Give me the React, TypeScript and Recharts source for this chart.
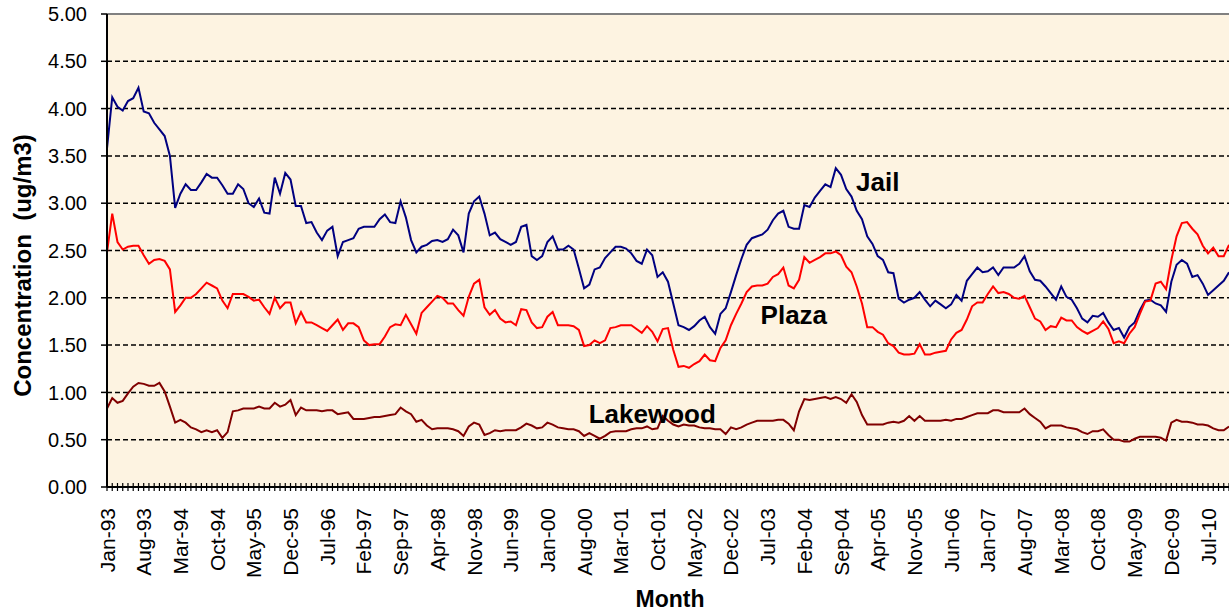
import React from "react";
import {
  LineChart,
  Line,
  XAxis,
  YAxis,
  CartesianGrid,
  ReferenceLine,
  ReferenceDot,
  Label,
} from "recharts";

const FONT = '"Liberation Sans", Arial, Helvetica, sans-serif';

// monthly series, Jan-93 .. Nov-10
const jail = [
  3.58, 4.12, 4.02, 3.98, 4.08, 4.11, 4.22, 3.97, 3.95, 3.85, 3.78, 3.71,
  3.5, 2.95, 3.1, 3.2, 3.14, 3.14, 3.22, 3.31, 3.27, 3.27, 3.19, 3.1,
  3.1, 3.2, 3.15, 3.0, 2.96, 3.05, 2.9, 2.89, 3.27, 3.1, 3.32, 3.25,
  2.97, 2.97, 2.79, 2.8, 2.69, 2.61, 2.71, 2.75, 2.44, 2.59, 2.61, 2.63,
  2.73, 2.75, 2.75, 2.75, 2.83, 2.88, 2.8, 2.79, 3.02, 2.85, 2.61, 2.48,
  2.54, 2.56, 2.6, 2.61, 2.59, 2.62, 2.72, 2.66, 2.48, 2.89, 3.02, 3.07,
  2.89, 2.66, 2.69, 2.62, 2.59, 2.56, 2.59, 2.75, 2.77, 2.44, 2.4, 2.44,
  2.59, 2.65, 2.51, 2.51, 2.55, 2.51, 2.31, 2.1, 2.14, 2.3, 2.32, 2.42,
  2.48, 2.54, 2.54, 2.52, 2.47, 2.39, 2.36, 2.51, 2.45, 2.22, 2.27, 2.17,
  1.94, 1.71, 1.69, 1.66, 1.7, 1.76, 1.8, 1.69, 1.62, 1.83, 1.89, 2.06,
  2.24, 2.41, 2.56, 2.63, 2.65, 2.67, 2.72, 2.82, 2.89, 2.92, 2.75, 2.73,
  2.73, 2.98, 2.96, 3.06, 3.13, 3.2, 3.17, 3.37, 3.3, 3.15, 3.07, 2.92,
  2.83, 2.65, 2.57, 2.44, 2.4, 2.27, 2.26, 1.99, 1.95, 1.98, 2.0, 2.06,
  1.98, 1.91, 1.97, 1.93, 1.89, 1.93, 2.03, 1.97, 2.18, 2.25, 2.32, 2.27,
  2.28, 2.32, 2.24, 2.32, 2.32, 2.32, 2.36, 2.44, 2.28, 2.19, 2.18, 2.12,
  2.05, 1.98, 2.12, 2.01, 1.98, 1.89, 1.78, 1.74, 1.81, 1.8, 1.84, 1.74,
  1.66, 1.68, 1.58, 1.69, 1.74, 1.87, 1.97, 1.98, 1.94, 1.92, 1.85, 2.17,
  2.35, 2.4, 2.36, 2.22, 2.24, 2.15, 2.03, 2.08, 2.13, 2.18, 2.27,
];

const plaza = [
  2.48, 2.89, 2.59, 2.51, 2.54, 2.55, 2.55, 2.45, 2.36, 2.4, 2.41, 2.39,
  2.3, 1.85, 1.92, 2.0, 2.0, 2.04, 2.1, 2.16, 2.13, 2.1, 1.97, 1.89,
  2.04, 2.04, 2.04, 2.01, 1.97, 1.98, 1.9, 1.83, 2.0, 1.89, 1.95, 1.95,
  1.73, 1.85, 1.74, 1.74, 1.71, 1.68, 1.65, 1.71, 1.77, 1.66, 1.73, 1.73,
  1.69, 1.55, 1.5, 1.51, 1.51, 1.59, 1.69, 1.72, 1.71, 1.82, 1.72, 1.62,
  1.84, 1.9, 1.96, 2.02, 2.0, 1.94, 1.94, 1.87, 1.81, 2.01, 2.15, 2.19,
  1.9, 1.82, 1.87, 1.78, 1.74, 1.75, 1.71, 1.88, 1.87, 1.74, 1.68, 1.69,
  1.8, 1.85, 1.71, 1.71, 1.71, 1.7, 1.66, 1.49, 1.5, 1.55, 1.52, 1.55,
  1.68, 1.69, 1.71, 1.71, 1.71, 1.67, 1.63, 1.7, 1.64, 1.54, 1.67, 1.68,
  1.45, 1.27, 1.28, 1.26, 1.3, 1.33, 1.4, 1.34, 1.33, 1.47, 1.55, 1.71,
  1.83, 1.94, 2.06, 2.12, 2.13, 2.13, 2.15, 2.22, 2.25, 2.32, 2.13, 2.1,
  2.19, 2.43, 2.37, 2.4, 2.43, 2.47, 2.47, 2.49, 2.45, 2.33, 2.27, 2.12,
  1.94, 1.69, 1.69, 1.64, 1.61, 1.52, 1.49, 1.42, 1.4, 1.4, 1.41, 1.51,
  1.4, 1.4, 1.42, 1.43, 1.44, 1.56, 1.63, 1.66, 1.77, 1.91, 1.95, 1.95,
  2.04, 2.12, 2.05, 2.06, 2.04, 2.0, 1.99, 2.02, 1.9, 1.78, 1.75, 1.66,
  1.7, 1.69, 1.79, 1.76, 1.76, 1.69, 1.65, 1.62, 1.65, 1.68, 1.75, 1.67,
  1.52, 1.54, 1.52, 1.62, 1.69, 1.83, 1.96, 1.97, 2.15, 2.17, 2.09, 2.4,
  2.65, 2.79, 2.8, 2.73, 2.67, 2.55, 2.47, 2.53, 2.44, 2.44, 2.56,
];

const lakewood = [
  0.83, 0.94, 0.89, 0.91, 0.99, 1.06, 1.1, 1.09, 1.07, 1.07, 1.1, 1.01,
  0.85, 0.68, 0.71, 0.68, 0.63, 0.61, 0.58, 0.6, 0.58, 0.6, 0.52, 0.58,
  0.8, 0.81, 0.83, 0.83, 0.83, 0.85, 0.83, 0.83, 0.89, 0.85, 0.87, 0.92,
  0.76, 0.84, 0.81, 0.81, 0.81, 0.8, 0.81, 0.81, 0.77, 0.78, 0.79, 0.72,
  0.72, 0.72, 0.73, 0.74, 0.74, 0.75, 0.76, 0.77, 0.84, 0.8, 0.77, 0.69,
  0.71, 0.65, 0.61, 0.62, 0.62, 0.62, 0.61, 0.59, 0.54, 0.64, 0.68, 0.66,
  0.55, 0.57, 0.6, 0.59, 0.6, 0.6, 0.6, 0.63, 0.67, 0.65, 0.62, 0.63,
  0.68, 0.66, 0.63, 0.62, 0.61, 0.61, 0.59, 0.54, 0.57, 0.54, 0.51, 0.54,
  0.58, 0.59, 0.59, 0.59, 0.61, 0.62, 0.62, 0.64, 0.61, 0.62, 0.75, 0.7,
  0.66, 0.64, 0.66, 0.65, 0.65, 0.63, 0.62, 0.62, 0.61, 0.61, 0.56, 0.63,
  0.61, 0.63, 0.66, 0.68, 0.7, 0.7, 0.7, 0.7, 0.71, 0.71, 0.67, 0.6,
  0.8, 0.93, 0.92, 0.93, 0.94, 0.95, 0.93, 0.95, 0.93, 0.89, 0.98, 0.9,
  0.76, 0.66, 0.66, 0.66, 0.66, 0.68, 0.69, 0.68, 0.7, 0.75, 0.7, 0.75,
  0.7, 0.7, 0.7, 0.7, 0.71, 0.7, 0.72, 0.72, 0.74, 0.76, 0.78, 0.78,
  0.78, 0.81, 0.81, 0.79, 0.79, 0.79, 0.79, 0.83, 0.77, 0.73, 0.69, 0.62,
  0.65, 0.65, 0.65, 0.63, 0.62, 0.61, 0.58, 0.56, 0.59, 0.59, 0.61, 0.55,
  0.5, 0.5, 0.48, 0.48, 0.51, 0.53, 0.53, 0.53, 0.53, 0.52, 0.49, 0.68,
  0.71, 0.69, 0.69, 0.68, 0.66, 0.66, 0.65, 0.62, 0.6, 0.6, 0.64,
];

const monthNames = ["Jan", "Feb", "Mar", "Apr", "May", "Jun", "Jul", "Aug", "Sep", "Oct", "Nov", "Dec"];
const startYear = 1993;
const labelEvery = 7;
const yTicks = [0, 0.5, 1, 1.5, 2, 2.5, 3, 3.5, 4, 4.5, 5];

const months = jail.map(
  (_, i) => `${monthNames[i % 12]}-${String((startYear + Math.floor(i / 12)) % 100).padStart(2, "0")}`
);

const annotations = [
  { text: "Jail", month: "Apr-05", value: 3.23 },
  { text: "Plaza", month: "Dec-03", value: 1.82 },
  { text: "Lakewood", month: "Sep-01", value: 0.774 },
];

const data = months.map((m, i) => ({
  month: m,
  jail: jail[i],
  plaza: plaza[i],
  lakewood: lakewood[i],
}));

function MonthTick(props: any) {
  const { x, y, index, payload } = props;
  const ty = y + 21;
  return (
    <g>
      <line x1={x} x2={x} y1={y - 4} y2={y + 4} stroke="#000" strokeWidth={1.2} />
      {index % labelEvery === 0 && (
        <text
          x={x}
          y={ty}
          transform={`rotate(-90 ${x} ${ty})`}
          textAnchor="end"
          dy="0.36em"
          fontSize={21}
          fontFamily={FONT}
          fill="#000"
        >
          {payload.value}
        </text>
      )}
    </g>
  );
}

function YTitle(props: any) {
  const vb = props.viewBox || {};
  const cx = 22;
  const cy = (vb.y ?? 14) + (vb.height ?? 473) / 2 + 15;
  return (
    <text
      x={cx}
      y={cy}
      transform={`rotate(-90 ${cx} ${cy})`}
      textAnchor="middle"
      dominantBaseline="central"
      fontSize={24}
      fontWeight="bold"
      fontFamily={FONT}
      fill="#000"
    >
      {"Concentration\u00a0\u00a0(ug/m3)"}
    </text>
  );
}

function XTitle(props: any) {
  const vb = props.viewBox || {};
  const cx = (vb.x ?? 107) + (vb.width ?? 1122) / 2 + 2;
  const by = (vb.y ?? 487) + (vb.height ?? 124) - 4;
  return (
    <text x={cx} y={by} textAnchor="middle" fontSize={23} fontWeight="bold" fontFamily={FONT} fill="#000">
      Month
    </text>
  );
}

export default function App() {
  return (
    <div style={{ position: "absolute", left: 0, top: 0, width: 1229, height: 611, background: "#fff", overflow: "hidden" }}>
      <LineChart width={1229} height={611} data={data} margin={{ top: 14, right: 0, bottom: 0, left: 0 }}>
        <CartesianGrid
          vertical={false}
          stroke="#000"
          strokeDasharray="5 3"
          strokeWidth={1.5}
          fill="#FDF3E1"
          fillOpacity={1}
        />
        <XAxis
          dataKey="month"
          interval={0}
          height={124}
          tickSize={0}
          tickMargin={0}
          tickLine={false}
          axisLine={{ stroke: "#000", strokeWidth: 2 }}
          tick={(p: any) => <MonthTick {...p} />}
        >
          <Label content={XTitle} />
        </XAxis>
        <YAxis
          domain={[0, 5]}
          ticks={yTicks}
          interval={0}
          width={107}
          tickSize={6}
          tickMargin={14}
          tickFormatter={(v: number) => v.toFixed(2)}
          tick={{ fontSize: 20, fill: "#000", fontFamily: FONT }}
          axisLine={{ stroke: "#000", strokeWidth: 2 }}
          tickLine={{ stroke: "#000", strokeWidth: 1.5 }}
        >
          <Label content={YTitle} />
        </YAxis>
        <ReferenceLine y={5} stroke="#808080" strokeWidth={2} />
        <Line dataKey="jail" stroke="#000080" strokeWidth={2} dot={false} activeDot={false} isAnimationActive={false} />
        <Line dataKey="plaza" stroke="#FF0000" strokeWidth={2} dot={false} activeDot={false} isAnimationActive={false} />
        <Line dataKey="lakewood" stroke="#800000" strokeWidth={2} dot={false} activeDot={false} isAnimationActive={false} />
        {annotations.map((a) => (
          <ReferenceDot
            key={a.text}
            x={a.month}
            y={a.value}
            r={0}
            fill="none"
            stroke="none"
            label={{
              value: a.text,
              position: "center",
              fontSize: 26,
              fontWeight: "bold",
              fill: "#000",
              fontFamily: FONT,
            }}
          />
        ))}
      </LineChart>
    </div>
  );
}
